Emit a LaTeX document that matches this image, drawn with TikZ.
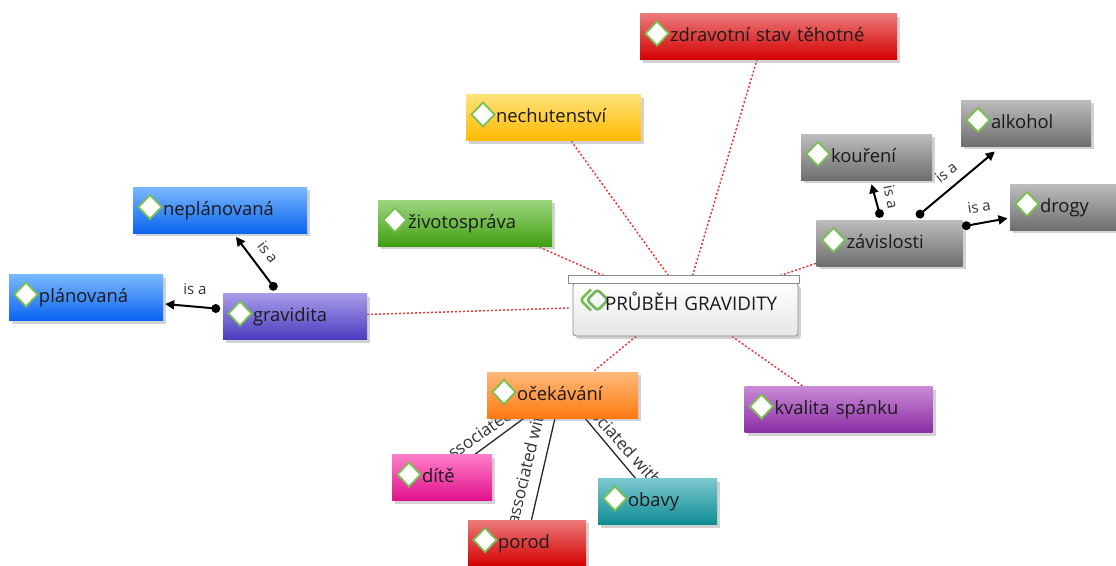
\documentclass[tikz,border=0pt]{standalone}
\usepackage{fontspec}
\setmainfont{Open Sans}
\usetikzlibrary{shadows,arrows.meta,backgrounds}

\definecolor{ink}{HTML}{1A1A1A}
\definecolor{gem}{HTML}{78C050}
\definecolor{gemdark}{HTML}{4FA03A}
\definecolor{linkred}{HTML}{E83A3A}
\definecolor{redT}{HTML}{EC7A7A}\definecolor{redB}{HTML}{D40000}
\definecolor{yelT}{HTML}{FFE27A}\definecolor{yelB}{HTML}{FFBA00}
\definecolor{grnT}{HTML}{9ED580}\definecolor{grnB}{HTML}{40A010}
\definecolor{bluT}{HTML}{7AB8FF}\definecolor{bluB}{HTML}{0A64F0}
\definecolor{vioT}{HTML}{A89CE8}\definecolor{vioB}{HTML}{4A3CC0}
\definecolor{gryT}{HTML}{BDBDBD}\definecolor{gryB}{HTML}{6E6E6E}
\definecolor{purT}{HTML}{C88AD6}\definecolor{purB}{HTML}{8B2DA3}
\definecolor{oraT}{HTML}{FFB97A}\definecolor{oraB}{HTML}{FF7A12}
\definecolor{pnkT}{HTML}{FF7EC8}\definecolor{pnkB}{HTML}{E0108C}
\definecolor{tealT}{HTML}{7CC8CE}\definecolor{tealB}{HTML}{0E8C94}

\tikzset{
  concept/.style n args={3}{
    top color=#1, bottom color=#2, draw=none,
    text width=#3, align=left, inner xsep=0pt, inner ysep=0pt,
    text height=28pt, text depth=18pt,
    font=\fontsize{18.4}{21}\selectfont, text=ink,
    drop shadow={shadow xshift=3pt, shadow yshift=-3pt, opacity=0.35},
    path picture={\draw[draw=gem, fill=white, line width=1.8pt]
      ([xshift=5.5pt,yshift=3pt]path picture bounding box.west)
      -- ++(11.5pt,12pt) -- ++(11.5pt,-12pt) -- ++(-11.5pt,-12pt) -- cycle;}
  },
  centre/.style={
    top color=white, bottom color=black!10, draw=black!45, line width=0.8pt,
    rounded corners=3pt,
    text width=225pt, align=left, inner xsep=0pt, inner ysep=0pt,
    text height=27pt, text depth=26pt,
    font=\fontsize{18.8}{21}\selectfont, text=ink,
    drop shadow={shadow xshift=3pt, shadow yshift=-3pt, opacity=0.35},
    path picture={
      \draw[draw=gem, line width=2.6pt]
        ([xshift=18pt,yshift=20pt]path picture bounding box.west)
        -- ++(-10.5pt,-10.5pt) -- ++(10.5pt,-10.5pt);
      \draw[draw=gemdark!80, line width=2.6pt]
        ([xshift=14pt,yshift=9.5pt]path picture bounding box.west)
        -- ++(10.5pt,10.5pt) -- ++(10.5pt,-10.5pt) -- ++(-10.5pt,-10.5pt) -- cycle;}
  },
  strip/.style={fill=white, draw=black!45, line width=0.8pt},
  rel/.style={draw=linkred, line width=1.5pt, dash pattern=on 2pt off 2pt},
  isa/.style={draw=black, line width=2pt, -{Triangle[length=9pt,width=9pt]}},
  assoc/.style={draw=black!85, line width=1.3pt},
  dot/.style={fill=black},
  isalab/.style={font=\fontsize{15}{17}\selectfont, text=black!80, inner sep=0pt},
  assoclab/.style={font=\fontsize{17}{19}\selectfont, text=black!80, inner sep=0pt},
}

\begin{document}
\begin{tikzpicture}[x=1pt,y=-1pt]
\useasboundingbox (0,0) rectangle (1116,565);

% central topic
\node[centre] (c) at (685.5,309.5) {\hspace*{32pt}PRŮBĚH GRAVIDITY};
\draw[strip] ([xshift=-4pt,yshift=7pt]c.north west) rectangle ([xshift=1pt,yshift=-1pt]c.north east);

% concepts
\node[concept={redT}{redB}{257pt}]  (zdr)   at (768.5,36.5)  {\hspace*{30pt}zdravotní stav těhotné};
\node[concept={yelT}{yelB}{175pt}]  (nech)  at (553.5,117.5) {\hspace*{30pt}nechutenství};
\node[concept={grnT}{grnB}{174pt}]  (ziv)   at (465,223)     {\hspace*{30pt}životospráva};
\node[concept={bluT}{bluB}{174pt}]  (nepl)  at (220,210)     {\hspace*{30pt}neplánovaná};
\node[concept={bluT}{bluB}{154pt}]  (plan)  at (86,297.5)    {\hspace*{30pt}plánovaná};
\node[concept={vioT}{vioB}{144pt}]  (grav)  at (295,316.5)   {\hspace*{30pt}gravidita};
\node[concept={gryT}{gryB}{131pt}]  (kou)   at (866.5,157)   {\hspace*{30pt}kouření};
\node[concept={gryT}{gryB}{130pt}]  (alk)   at (1026,123)    {\hspace*{30pt}alkohol};
\node[concept={gryT}{gryB}{106pt}]  (drog)  at (1063,207)    {\hspace*{30pt}drogy};
\node[concept={gryT}{gryB}{146pt}]  (zav)   at (889.5,243)   {\hspace*{30pt}závislosti};
\node[concept={purT}{purB}{188pt}]  (kval)  at (838.5,409.5) {\hspace*{30pt}kvalita spánku};
\node[concept={oraT}{oraB}{151pt}]  (oce)   at (562.5,395)   {\hspace*{30pt}očekávání};
\node[concept={pnkT}{pnkB}{100pt}]  (dite)  at (442,477.5)   {\hspace*{30pt}dítě};
\node[concept={tealT}{tealB}{119pt}] (obavy) at (657.5,501.5) {\hspace*{30pt}obavy};
\node[concept={redT}{redB}{118pt}]  (porod) at (527,543)     {\hspace*{30pt}porod};

% links beneath the boxes
\begin{pgfonlayer}{background}
\fill[white] (0,0) rectangle (1116,565);
\draw[rel] ([xshift=7pt,yshift=7pt]c.north) -- ([xshift=-11.5pt]zdr.south);
\draw[rel] ([xshift=-17pt,yshift=7pt]c.north) -- ([xshift=17.5pt]nech.south);
\draw[rel] ([xshift=-82pt,yshift=7pt]c.north) -- ([xshift=-15pt]ziv.south east);
\draw[rel] ([xshift=94.5pt,yshift=7pt]c.north) -- ([yshift=3pt]zav.south west);
\draw[rel] ([yshift=2pt]grav.east) -- ([xshift=-4pt,yshift=1.5pt]c.west);
\draw[rel] ([xshift=-49.5pt]c.south) -- ([xshift=30.5pt]oce.north);
\draw[rel] ([xshift=46.5pt]c.south) -- ([xshift=-35.5pt]kval.north);

\draw[assoc] ([xshift=-38.5pt]oce.south) -- ([xshift=33pt]dite.north);
\draw[assoc] ([xshift=-7.5pt]oce.south) -- ([xshift=4.5pt]porod.north);
\draw[assoc] ([xshift=22.5pt]oce.south) -- ([xshift=-22pt]obavy.north);
\node[assoclab, rotate=34.8] (a1) at (492,425) {associated with};
\node[assoclab, rotate=76.6] (a2) at (526,465) {associated with};
\node[assoclab, rotate=-48]  (a3) at (618,438) {associated with};
\end{pgfonlayer}

% "is a" links
\draw[isa] ([xshift=-7pt,yshift=8pt]grav.west) -- ([xshift=2pt,yshift=-6.5pt]plan.east);
\fill[dot] ([xshift=-7pt,yshift=8pt]grav.west) circle (4.5pt);
\node[isalab] (i1) at (195,289) {is a};

\draw[isa] ([xshift=-21.7pt,yshift=7pt]grav.north) -- ([xshift=16pt,yshift=-3.7pt]nepl.south);
\fill[dot] ([xshift=-21.7pt,yshift=7pt]grav.north) circle (4.5pt);
\node[isalab, rotate=-53] (i2) at (268,252) {is a};

\draw[isa] ([xshift=-10pt,yshift=6.3pt]zav.north) -- ([xshift=5pt,yshift=-4pt]kou.south);
\fill[dot] ([xshift=-10pt,yshift=6.3pt]zav.north) circle (4.5pt);
\node[isalab, rotate=-78] (i3) at (891,197) {is a};

\draw[isa] ([xshift=30.5pt,yshift=5.7pt]zav.north) -- ([xshift=34pt,yshift=-5.3pt]alk.south west);
\fill[dot] ([xshift=30.5pt,yshift=5.7pt]zav.north) circle (4.5pt);
\node[isalab, rotate=38.7] (i4) at (946,172) {is a};

\draw[isa] ([xshift=3.7pt,yshift=17.3pt]zav.east) -- ([xshift=-2.3pt,yshift=-11.3pt]drog.west);
\fill[dot] ([xshift=3.7pt,yshift=17.3pt]zav.east) circle (4.5pt);
\node[isalab, rotate=8] (i5) at (979,207) {is a};
\end{tikzpicture}
\end{document}
